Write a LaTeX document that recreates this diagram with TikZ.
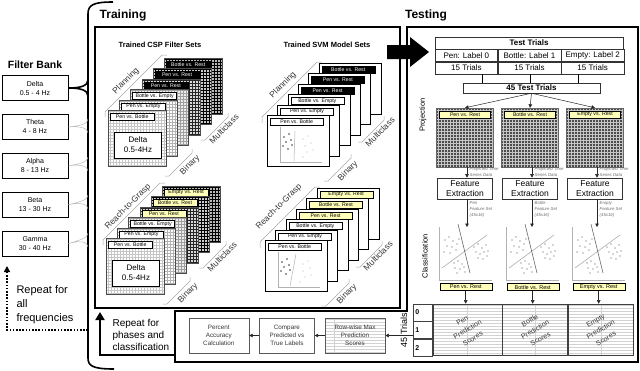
\documentclass[tikz,border=0pt]{standalone}
\usepackage{fontspec}
\setmainfont{Liberation Sans}
\usepackage{xcolor}
\definecolor{lblyellow}{RGB}{255,255,185}
\definecolor{inkgray}{RGB}{55,55,55}
\usetikzlibrary{arrows.meta,positioning,calc}

\newcommand{\fsz}[2]{\fontsize{#1}{#2}\selectfont}

\begin{document}
\begin{tikzpicture}[
  x=1pt, y=-1pt,
  band/.style={
    draw, line width=0.9pt, minimum width=66pt, minimum height=25pt,
    inner sep=0pt, align=center, font=\fsz{7}{9}
  },
  title/.style={font=\fsz{12}{14}\bfseries},
  subtitle/.style={font=\fsz{7.5}{9}\bfseries},
  cspsheet/.style={
    draw=black!70, line width=0.4pt, anchor=north west,
    minimum width=58pt, minimum height=56pt, inner sep=0pt,
    path picture={\draw[color=#1, line width=0.35pt, step=3pt]
      (path picture bounding box.south west) grid (path picture bounding box.north east);}
  },
  svmsheet/.style={
    draw, fill=white, line width=0.5pt, anchor=north west,
    minimum width=62pt, minimum height=51pt, inner sep=0pt
  },
  lbl/.style={
    draw, line width=0.4pt, anchor=north west, minimum height=7pt,
    inner sep=0.5pt, font=\fsz{5.2}{6}
  },
  lbllight/.style={lbl, fill=white},
  lbldark/.style={lbl, fill=black, text=white},
  lblyel/.style={lbl, fill=lblyellow},
  deltabox/.style={
    draw, fill=white, line width=0.5pt, minimum width=47pt,
    minimum height=26pt, align=center, font=\fsz{8}{10}
  },
  brk/.style={draw=gray!70, line width=0.5pt},
  brktxt/.style={rotate=45, font=\fsz{8.5}{10}, text=inkgray, inner sep=0pt},
  axis/.style={draw=gray!60, line width=0.5pt},
  cell/.style={
    draw=black!80, line width=0.5pt, minimum height=12pt,
    inner sep=0pt, font=\fsz{8}{9}
  },
  projgrid/.style={
    draw=black!60, fill=black!70, minimum width=57pt, minimum height=59pt, inner sep=0pt,
    path picture={\draw[gray!45, line width=0.4pt, step=3pt]
      (path picture bounding box.south west) grid (path picture bounding box.north east);}
  },
  fexbox/.style={
    draw=black!80, line width=0.6pt, fill=white, minimum width=55pt,
    minimum height=21pt, inner sep=0pt, align=center, font=\fsz{8.5}{10}
  },
  note/.style={
    font=\fsz{4.3}{5.8}\itshape, text=gray!85!black, align=left,
    inner sep=0pt, anchor=north west
  },
  plotarea/.style={minimum width=53pt, minimum height=53pt, inner sep=0pt, anchor=north west},
  hatch/.style={
    path picture={\draw[gray!35, line width=0.3pt, xstep=2000pt, ystep=3pt]
      (path picture bounding box.south west) grid (path picture bounding box.north east);}
  },
  scorecol/.style={draw=black!75, line width=0.6pt, minimum height=51pt, inner sep=0pt, hatch},
  idxcell/.style={
    draw=black!75, line width=0.6pt, minimum height=17pt, text width=15pt,
    inner xsep=2pt, inner ysep=0pt, align=left, font=\fsz{7}{8}\bfseries
  },
  sctxt/.style={rotate=30, align=center, font=\fsz{7}{10.5}, text=inkgray},
  stepbox/.style={
    draw=black!65, line width=0.6pt, fill=white, minimum height=35pt,
    inner sep=0pt, align=center, font=\fsz{6.3}{8}, text=inkgray
  },
  arr/.style={-{Triangle[length=3.5pt,width=3.5pt]}, line width=0.5pt, black!85},
  bigarr/.style={-{Triangle[length=8pt,width=9pt]}, line width=2.6pt},
  dotarr/.style={-{Triangle[length=6pt,width=6pt]}, line width=1.6pt, dash pattern=on 1.6pt off 1.6pt},
  fork/.style={draw=gray!55, line width=0.5pt},
]
\useasboundingbox (0,0) rectangle (640,370);

% Filter bank
\node[font=\fsz{10.5}{12}\bfseries] (fbank) at (35,65) {Filter Bank};
\node[band] (delta) at (35,88) {Delta\\0.5 - 4 Hz};
\node[band, below=13pt of delta] (theta) {Theta\\4 - 8 Hz};
\node[band, below=13pt of theta] (alpha) {Alpha\\8 - 13 Hz};
\node[band, below=13pt of alpha] (beta) {Beta\\13 - 30 Hz};
\node[band, below=13pt of beta] (gamma) {Gamma\\30 - 40 Hz};

% brace and forks
\draw[line width=1.6pt] (113,2) .. controls (93,2) and (88,5) .. (88,14)
  -- (88,358) .. controls (88,366) and (93,369) .. (114,369);
\draw[line width=1.6pt] (delta.east) .. controls (80,88) and (88,86) .. (88,80)
  (delta.east) .. controls (80,88) and (88,90) .. (88,96);
\foreach \b/\y in {theta/126, alpha/164, beta/202, gamma/240}
  \draw[fork] (\b.east) .. controls (80,\y) and (88,\y-2) .. (88,\y-7)
    (\b.east) .. controls (80,\y) and (88,\y+2) .. (88,\y+7);

\coordinate (rptfrom) at (88,330);
\coordinate (rptto) at (7,266);
\draw[dotarr] (rptfrom) -| (rptto);
\node[font=\fsz{11}{14}, align=left, anchor=north west] (rptfreq) at (13,282) {Repeat for\\all\\frequencies};

% Training frame
\node[title] (traintitle) at (123,15) {Training};
\node[draw, line width=1.5pt, minimum width=305pt, minimum height=281pt, inner sep=0pt] (trainbox) at (247.5,167.5) {};
\node[subtitle] (csptitle) at (160,45) {Trained CSP Filter Sets};
\node[subtitle] (svmtitle) at (327,45) {Trained SVM Model Sets};

% CSP filter sets, planning
\begin{scope}[shift={(108,110)}]
  \foreach \i/\fc/\gc/\ls/\txt in {
    5/gray!55/black/lbldark/Bottle vs. Rest,
    4/gray!40/black/lbldark/Pen vs. Rest,
    3/gray!30/black!85/lbldark/Pen vs. Rest,
    2/gray!15/gray!75/lbllight/Bottle vs. Empty,
    1/white/gray!60/lbllight/Pen vs. Empty,
    0/white/gray!45/lbllight/Pen vs. Bottle}{
    \node[cspsheet=\gc, fill=\fc] (cspp\i) at (\i*11.2, -\i*10.4) {};
    \node[\ls, minimum width=44pt] (csppl\i) at ([shift={(2pt,-3pt)}]cspp\i.north west) {\txt};
  }
  \node[deltabox] (csppdelta) at (30,35) {Delta\\0.5-4Hz};
  \draw[brk] (-3,7) -- (-3,2) -- (54,-55) -- (59,-55);
  \draw[brk] (57,66) -- (61,66) -- (84,43) -- (84,39);
  \draw[brk] (93,30) -- (97,30) -- (120,7) -- (120,3);
  \node[brktxt] (cspptxt) at (18,-29) {Planning};
  \node[brktxt] (csppbin) at (82,55) {Binary};
  \node[brktxt] (csppmul) at (116,19) {Multiclass};
\end{scope}

% CSP filter sets, reach-to-grasp
\begin{scope}[shift={(106,238)}]
  \foreach \i/\fc/\gc/\ls/\txt in {
    5/gray!55/black/lblyel/Empty vs. Rest,
    4/gray!40/black/lblyel/Bottle vs. Rest,
    3/gray!30/black!85/lblyel/Pen vs. Rest,
    2/gray!15/gray!75/lbllight/Bottle vs. Empty,
    1/white/gray!60/lbllight/Pen vs. Empty,
    0/white/gray!45/lbllight/Pen vs. Bottle}{
    \node[cspsheet=\gc, fill=\fc] (cspr\i) at (\i*11.2, -\i*10.4) {};
    \node[\ls, minimum width=44pt] (csprl\i) at ([shift={(2pt,-3pt)}]cspr\i.north west) {\txt};
  }
  \node[deltabox] (csprdelta) at (30,35) {Delta\\0.5-4Hz};
  \draw[brk] (-3,7) -- (-3,2) -- (54,-55) -- (59,-55);
  \draw[brk] (57,66) -- (61,66) -- (84,43) -- (84,39);
  \draw[brk] (93,30) -- (97,30) -- (120,7) -- (120,3);
  \node[brktxt] (csprtxt) at (22,-31) {Reach-to-Grasp};
  \node[brktxt] (csprbin) at (82,55) {Binary};
  \node[brktxt] (csprmul) at (116,19) {Multiclass};
\end{scope}

% SVM model sets, planning
\begin{scope}[shift={(267,115)}]
  \foreach \i/\ls/\txt in {
    5/lbldark/Bottle vs. Rest,
    4/lbldark/Pen vs. Rest,
    3/lbldark/Pen vs. Rest,
    2/lbllight/Bottle vs. Empty,
    1/lbllight/Pen vs. Empty,
    0/lbllight/Pen vs. Bottle}{
    \node[svmsheet] (svmp\i) at (\i*10.3, -\i*10.4) {};
    \node[\ls, minimum width=53pt] (svmpl\i) at ([shift={(3pt,-3pt)}]svmp\i.north west) {\txt};
  }
  \draw[axis] (13,12) -- (13,47) -- (55,47);
  \draw[axis] (28,16) -- (27,46);
  \foreach \p in {(17,22),(22,19),(19,27),(24,25),(16,31),(21,34),(25,30)}
    \fill[black!75] \p circle[radius=0.8pt];
  \foreach \p in {(36,24),(41,21),(38,31),(44,28),(40,37),(46,35),(36,42)}
    \fill[gray!55] \p circle[radius=0.7pt];
  \draw[brk] (-5,8) -- (-5,2) -- (50,-53) -- (55,-53);
  \draw[brk] (57,66) -- (61,66) -- (84,43) -- (84,39);
  \draw[brk] (91,27) -- (95,27) -- (117,5) -- (117,1);
  \node[brktxt] (svmptxt) at (16,-30) {Planning};
  \node[brktxt] (svmpbin) at (81,56) {Binary};
  \node[brktxt] (svmpmul) at (113,17) {Multiclass};
\end{scope}

% SVM model sets, reach-to-grasp
\begin{scope}[shift={(265,240)}]
  \foreach \i/\ls/\txt in {
    5/lblyel/Empty vs. Rest,
    4/lblyel/Bottle vs. Rest,
    3/lblyel/Pen vs. Rest,
    2/lbllight/Bottle vs. Empty,
    1/lbllight/Pen vs. Empty,
    0/lbllight/Pen vs. Bottle}{
    \node[svmsheet] (svmr\i) at (\i*10.3, -\i*10.4) {};
    \node[\ls, minimum width=53pt] (svmrl\i) at ([shift={(3pt,-3pt)}]svmr\i.north west) {\txt};
  }
  \draw[axis] (13,12) -- (13,47) -- (55,47);
  \draw[axis] (31,14) -- (25,46);
  \foreach \p in {(17,22),(22,19),(19,27),(24,25),(16,31),(21,34),(25,30)}
    \fill[black!75] \p circle[radius=0.8pt];
  \foreach \p in {(38,24),(43,21),(38,31),(45,28),(40,37),(46,35),(35,42)}
    \fill[gray!55] \p circle[radius=0.7pt];
  \draw[brk] (-5,8) -- (-5,2) -- (50,-53) -- (55,-53);
  \draw[brk] (57,66) -- (61,66) -- (84,43) -- (84,39);
  \draw[brk] (91,27) -- (95,27) -- (117,5) -- (117,1);
  \node[brktxt] (svmrtxt) at (14,-33) {Reach-to-Grasp};
  \node[brktxt] (svmrbin) at (82,54) {Binary};
  \node[brktxt] (svmrmul) at (113,16) {Multiclass};
\end{scope}

% Testing frame
\node[title] (testtitle) at (426,15) {Testing};
\draw[line width=1.5pt] (407,27) -- (638,27) -- (638,362) -- (175,362) -- (175,311) -- (407,311) -- cycle;
\fill (387,45) -- (410,45) -- (410,37) -- (429,52) -- (410,67) -- (410,59) -- (387,59) -- cycle;

% test trials table
\node[cell, minimum width=188pt, font=\fsz{8}{9}\bfseries] (ttl) at (529,43) {Test Trials};
\node[cell, minimum width=62.67pt, anchor=north west] (lab0) at (ttl.south west) {Pen: Label 0};
\node[cell, minimum width=62.67pt, anchor=west] (lab1) at (lab0.east) {Bottle: Label 1};
\node[cell, minimum width=62.67pt, anchor=west] (lab2) at (lab1.east) {Empty: Label 2};
\foreach \k in {0,1,2}
  \node[cell, minimum width=62.67pt, anchor=north] (tr\k) at (lab\k.south) {15 Trials};
\node[cell, minimum width=137pt, minimum height=10pt, font=\fsz{8}{9}\bfseries] (t45) at (531.5,88) {45 Test Trials};
\foreach \k/\o in {0/16, 1/1, 2/-14}{
  \path ([xshift=\o pt]tr\k.south) coordinate (tk\k);
  \draw[line width=0.5pt] (tk\k) -- (tk\k |- t45.north);
}

% projection, feature extraction, classification
\node[rotate=90, font=\fsz{7.5}{9}] (projtxt) at (423,115) {Projection};
\node[rotate=90, font=\fsz{7.5}{9}] (clstxt) at (425,256) {Classification};
\foreach \k/\c/\px/\cls in {0/465/439/Pen, 1/530/506/Bottle, 2/595/572/Empty}{
  \node[projgrid] (proj\k) at (\c,137.5) {};
  \node[lblyel, anchor=north, minimum width=51pt] (projl\k) at ([yshift=-3pt]proj\k.north) {\cls{} vs. Rest};
  \draw[arr] (t45.south) -- (proj\k.north);
  \node[fexbox] (fe\k) at (\c,188.5) {Feature\\Extraction};
  \draw[arr] ([xshift=2pt]proj\k.south) -- ([xshift=2pt]fe\k.north);
  \node[note] (pnote\k) at ([xshift=4.5pt]proj\k.south) {Projected Time\\Series Data};
  \node[note] (fnote\k) at ([xshift=4.5pt,yshift=-2pt]fe\k.south) {\cls\\Feature Set\\(45x16)};
  \node[plotarea] (plot\k) at (\px,227) {};
  \begin{scope}[shift={(\px,227)}]
    \draw[axis] (0,0) -- (0,53) -- (53,53);
    \draw[draw=gray!65, line width=0.6pt] (3,41) -- (48,8);
    \draw[draw=black!60, line width=0.6pt] (19,-3) -- (31,46);
    \foreach \p in {(6,13),(10,10),(14,14),(8,19),(13,20),(18,17),(5,25),(11,26),(17,23),(20,12),
                    (35,20),(39,17),(43,21),(47,18),(37,25),(41,27),(45,25),(49,24),(39,31),(44,32),(48,29),
                    (15,36),(19,34),(23,37),(16,41),(21,42),(25,40),(18,46),(26,45)}
      \fill[black!70] \p circle[radius=0.7pt];
  \end{scope}
  \path ([xshift=2pt]fe\k.south) coordinate (fs\k);
  \draw[arr] (fs\k) -- (fs\k |- plot\k.north);
  \node[lblyel, anchor=north, minimum width=52pt, font=\fsz{5.5}{6.5}] (clsl\k) at ([yshift=-3pt]plot\k.south) {\cls{} vs. Rest};
}

% prediction scores
\node[scorecol, minimum width=69pt] (score0) at (467.5,329.5) {};
\node[scorecol, minimum width=65pt, anchor=west] (score1) at (score0.east) {};
\node[scorecol, minimum width=65pt, anchor=west] (score2) at (score1.east) {};
\node[idxcell, anchor=north east] (idx0) at (score0.north west) {0};
\node[idxcell, anchor=north] (idx1) at (idx0.south) {1};
\node[idxcell, anchor=north] (idx2) at (idx1.south) {2};
\node[rotate=90, font=\fsz{9}{10}] (t45lbl) at (404,330) {45 Trials};
\foreach \k/\cls in {0/Pen, 1/Bottle, 2/Empty}{
  \draw[arr] (clsl\k.south) -- (clsl\k.south |- score\k.north);
  \node[sctxt] (sct\k) at (score\k.center) {\cls\\Prediction\\Scores};
}

% evaluation chain
\node[stepbox, hatch, minimum width=60pt] (rowmax) at (355,335.5) {Row-wise Max\\Prediction\\Scores};
\node[stepbox, minimum width=55pt, left=10pt of rowmax] (compare) {Compare\\Predicted vs\\True Labels};
\node[stepbox, minimum width=60pt, left=10pt of compare] (percent) {Percent\\Accuracy\\Calculation};
\draw[arr] (idx1.west |- rowmax.east) -- (rowmax.east);
\draw[arr] (rowmax.west) -- (compare.east);
\draw[arr] (compare.west) -- (percent.east);

\coordinate (stripw) at (175,355);
\coordinate (trainret) at (100,312);
\draw[bigarr] (stripw) -| (trainret);
\node[font=\fsz{10}{12}, align=left, anchor=north west] (rptphase) at (109,316) {Repeat for\\phases and\\classification};

\end{tikzpicture}
\end{document}
